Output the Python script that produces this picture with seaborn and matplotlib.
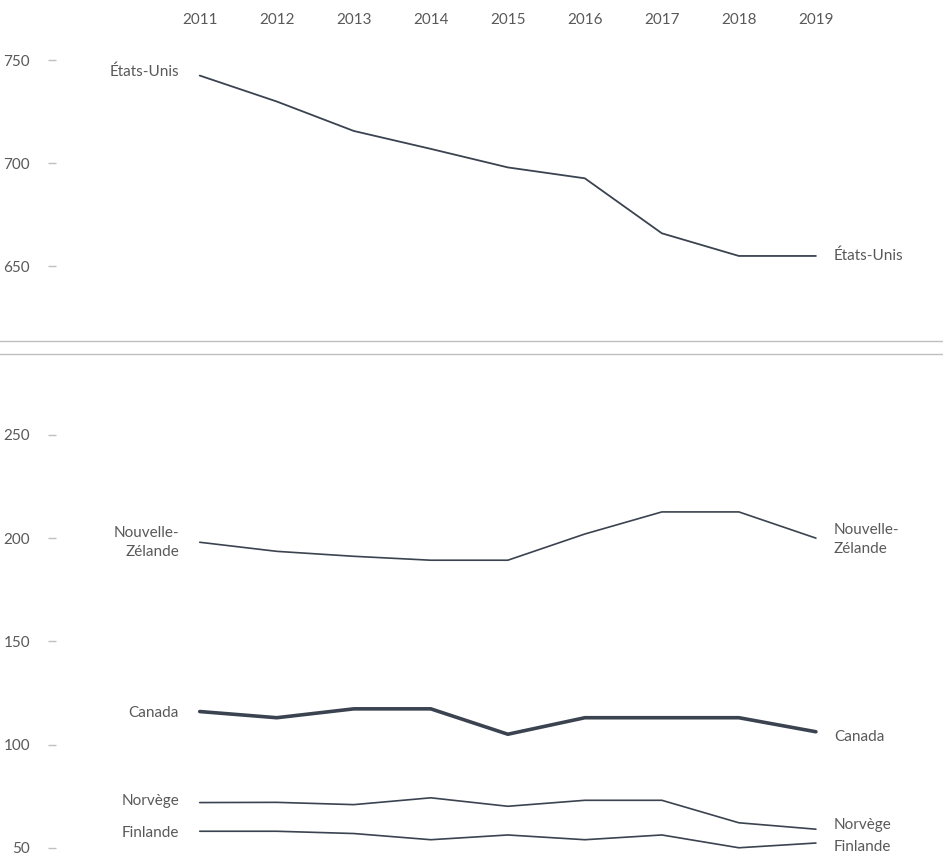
import numpy as np
import pandas as pd
import matplotlib
matplotlib.use("Agg")
import matplotlib.pyplot as plt
from matplotlib.lines import Line2D
import seaborn as sns

# === Data ===
years = [2011, 2012, 2013, 2014, 2015, 2016, 2017, 2018, 2019]
etats_unis = [742.6, 730, 715.7, 707, 698, 692.7, 666, 655, 655]
nouvelle_zelande = [198, 193.6, 191.2, 189.3, 189.3, 202, 212.7, 212.7, 200]
canada = [116, 113, 117.3, 117.3, 105, 113, 113, 113, 106.2]
norvege = [71.9, 72, 70.9, 74.2, 70.1, 73, 73, 62.1, 59]
finlande = [58, 58, 56.9, 53.9, 56.2, 53.9, 56.2, 50, 52.3]

top_ticks = [650, 700, 750]
bottom_ticks = [50, 100, 150, 200, 250]

LINE = "#3b4350"
TEXT = "#595959"
GREY = "#bfbfbf"
FS = 11

sns.set_theme(style="white")
plt.rcParams["font.family"] = ["Lato", "DejaVu Sans"]

W, H = 943, 868
fig = plt.figure(figsize=(W / 100, H / 100), dpi=100)


def px_axes(left, top, right, bottom):
    return fig.add_axes([left / W, 1 - bottom / H, (right - left) / W, (bottom - top) / H])


ax_top = px_axes(48, 35, 943, 341)
ax_bot = px_axes(48, 354, 943, 868)

top_df = pd.DataFrame({"year": years, "value": etats_unis, "pays": "États-Unis"})
bot_df = pd.concat([
    pd.DataFrame({"year": years, "value": v, "pays": n})
    for n, v in [("Nouvelle-\nZélande", nouvelle_zelande), ("Canada", canada),
                 ("Norvège", norvege), ("Finlande", finlande)]
])

sns.lineplot(data=top_df, x="year", y="value", color=LINE, linewidth=1.3, ax=ax_top)
for name, grp in bot_df.groupby("pays", sort=False):
    lw = 2.6 if name == "Canada" else 1.2
    sns.lineplot(data=grp, x="year", y="value", color=LINE, linewidth=lw, ax=ax_bot)

# === Axes styling ===
xlim = (2009.03, 2020.65)
ax_top.set_xlim(*xlim)
ax_bot.set_xlim(*xlim)
ax_top.set_ylim(613.7, 762.3)
ax_bot.set_ylim(40.2, 289.2)

for ax, ticks in [(ax_top, top_ticks), (ax_bot, bottom_ticks)]:
    for s in ax.spines.values():
        s.set_visible(False)
    ax.set_xlabel("")
    ax.set_ylabel("")
    ax.set_yticks(ticks)
    ax.tick_params(axis="y", direction="in", length=6, width=1, color=GREY,
                   labelcolor=TEXT, labelsize=FS, pad=13, left=True)
    ax.grid(False)
    ax.patch.set_alpha(0)

ax_top.xaxis.tick_top()
ax_top.set_xticks(years)
ax_top.set_xticklabels([str(y) for y in years])
ax_top.tick_params(axis="x", length=0, labelcolor=TEXT, labelsize=FS, pad=6)
ax_bot.set_xticks([])

# === Series labels ===
def label(ax, x, y, text, side, dy=0):
    if side == "left":
        ax.annotate(text, (x, y), xytext=(-15, dy), textcoords="offset points",
                    ha="right", va="center", color=TEXT, fontsize=FS, linespacing=1.45)
    else:
        ax.annotate(text, (x, y), xytext=(13, dy), textcoords="offset points",
                    ha="left", va="center", color=TEXT, fontsize=FS, linespacing=1.45)


label(ax_top, years[0], etats_unis[0], "États-Unis", "left", 3)
label(ax_top, years[-1], etats_unis[-1], "États-Unis", "right", 0.5)
label(ax_bot, years[0], nouvelle_zelande[0], "Nouvelle-\nZélande", "left", 0)
label(ax_bot, years[-1], nouvelle_zelande[-1], "Nouvelle-\nZélande", "right", -1)
label(ax_bot, years[0], canada[0], "Canada", "left", -1)
label(ax_bot, years[-1], canada[-1], "Canada", "right", -4)
label(ax_bot, years[0], norvege[0], "Norvège", "left", 1)
label(ax_bot, years[-1], norvege[-1], "Norvège", "right", 3)
label(ax_bot, years[0], finlande[0], "Finlande", "left", -1.5)
label(ax_bot, years[-1], finlande[-1], "Finlande", "right", -3)

# === Separator lines ===
for py in (341, 354):
    fig.add_artist(Line2D([0, 1], [1 - py / H, 1 - py / H], color=GREY, linewidth=1.0,
                          transform=fig.transFigure))

fig.savefig("out.png", dpi=100)
